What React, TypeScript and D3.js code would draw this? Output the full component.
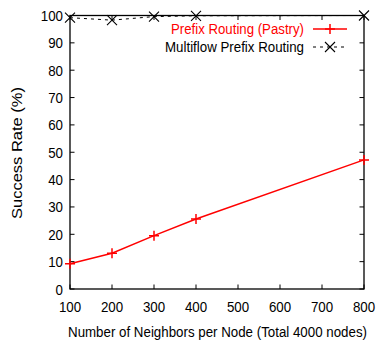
import React from "react";
import * as d3 from "d3";

const neighbors = [100, 200, 300, 400, 800];
const pastry = [9.2, 13.1, 19.5, 25.6, 47.2];
const multiflow = [99.2, 98.3, 99.6, 99.9, 100];
const xTicks = [100, 200, 300, 400, 500, 600, 700, 800];
const yTicks = [0, 10, 20, 30, 40, 50, 60, 70, 80, 90, 100];
const seriesNames = ["Prefix Routing (Pastry)", "Multiflow Prefix Routing"];
const xTitle = "Number of Neighbors per Node (Total 4000 nodes)";
const yTitle = "Success Rate (%)";

const SX = 0.86;
const FS = 15.5;

function Txt(props: { x: number; y: number; anchor: string; fill?: string; rot?: number; len?: number; fs?: number; children: React.ReactNode }) {
  const { x, y, anchor, fill = "#000", rot = 0, len, fs = FS, children } = props;
  const tf = rot === 0 ? `translate(${x},${y}) scale(${len ? 1 : SX},1)` : `translate(${x},${y}) rotate(${rot}) scale(1,${SX})`;
  return (
    <text
      transform={tf}
      textAnchor={anchor}
      fontSize={fs}
      fill={fill}
      textLength={len}
      lengthAdjust={len ? "spacingAndGlyphs" : undefined}
    >
      {children}
    </text>
  );
}

export default function App() {
  const W = 376, H = 346;
  const L = 70, R = 364, T = 15.5, B = 289;
  const x = d3.scaleLinear().domain([100, 800]).range([L, R]);
  const y = d3.scaleLinear().domain([0, 100]).range([B, T]);
  const font = "'Liberation Sans', Arial, sans-serif";
  const line = d3.line<number>().x((_, i) => x(neighbors[i])).y((d) => y(d));
  const tk = 4.5;
  const plus = (cx: number, cy: number, k: string) => (
    <path key={k} d={`M${cx - 5},${cy}H${cx + 5}M${cx},${cy - 5}V${cy + 5}`} stroke="#ff0000" strokeWidth={1.5} />
  );
  const cross = (cx: number, cy: number, k: string) => (
    <path key={k} d={`M${cx - 5},${cy - 5}L${cx + 5},${cy + 5}M${cx - 5},${cy + 5}L${cx + 5},${cy - 5}`} stroke="#000" strokeWidth={1.1} />
  );
  return (
    <svg width={W} height={H} style={{ position: "absolute", left: 0, top: 0, background: "#fff" }} fontFamily={font}>
      {yTicks.map((t) => (
        <g key={"y" + t}>
          <line x1={L} x2={L + tk} y1={y(t)} y2={y(t)} stroke="#000" />
          <line x1={R} x2={R - tk} y1={y(t)} y2={y(t)} stroke="#000" />
          <Txt x={63} y={y(t) + 5.5} anchor="end">{t}</Txt>
        </g>
      ))}
      {xTicks.map((t) => (
        <g key={"x" + t}>
          <line x1={x(t)} x2={x(t)} y1={B} y2={B - tk} stroke="#000" />
          <line x1={x(t)} x2={x(t)} y1={T} y2={T + tk} stroke="#000" />
          <Txt x={x(t)} y={312} anchor="middle">{t}</Txt>
        </g>
      ))}
      <rect x={L} y={T} width={R - L} height={B - T} fill="none" stroke="#000" strokeWidth={1.3} />
      <Txt x={217.5} y={337} anchor="middle">{xTitle}</Txt>
      <Txt x={22} y={153} anchor="middle" rot={-90} fs={16.5}>{yTitle}</Txt>
      <path d={line(pastry) || ""} fill="none" stroke="#ff0000" strokeWidth={1.5} />
      {pastry.map((v, i) => plus(x(neighbors[i]), y(v), "p" + i))}
      <path d={line(multiflow) || ""} fill="none" stroke="#000" strokeWidth={1} strokeDasharray="3,4" />
      {multiflow.map((v, i) => cross(x(neighbors[i]), y(v), "m" + i))}
      <Txt x={304} y={34} anchor="end" fill="#ff0000" len={133}>{seriesNames[0]}</Txt>
      <line x1={313} x2={347} y1={29} y2={29} stroke="#ff0000" strokeWidth={1.5} />
      {plus(330, 29, "lp")}
      <Txt x={304} y={52} anchor="end" len={139}>{seriesNames[1]}</Txt>
      <line x1={313} x2={347} y1={47} y2={47} stroke="#000" strokeDasharray="3,4" />
      {cross(330, 47, "lm")}
    </svg>
  );
}
